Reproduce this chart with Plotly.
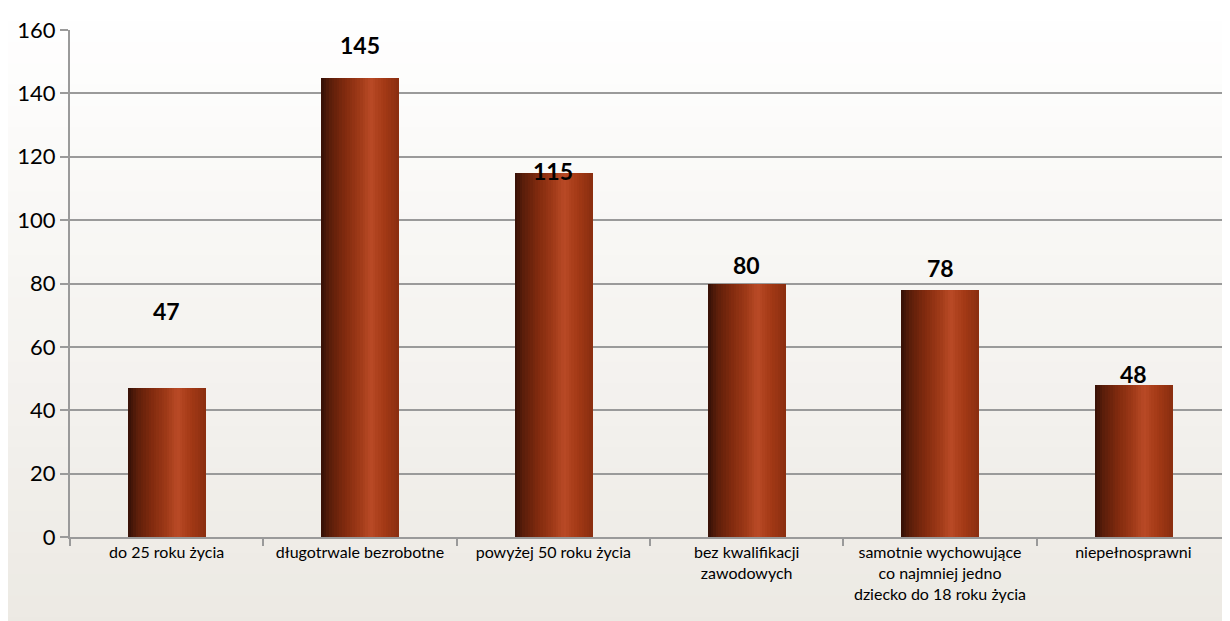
import plotly.graph_objects as go

categories = ["do 25 roku życia", "długotrwale bezrobotne", "powyżej 50 roku życia",
              "bez kwalifikacji<br>zawodowych",
              "samotnie wychowujące<br>co najmniej jedno<br>dziecko do 18 roku życia",
              "niepełnosprawni"]
values = [47, 145, 115, 80, 78, 48]
label_texts = ["47", "145", "115", "80", "78", "48"]
label_shift_px = [77, 33, 2, 19, 22, 11]
y_ticks = [0, 20, 40, 60, 80, 100, 120, 140, 160]

# cylinder shading stops (position across bar, rgb)
stops = [(0.0, (52, 16, 6)), (0.12, (92, 30, 10)), (0.3, (128, 42, 14)),
         (0.5, (160, 58, 24)), (0.64, (185, 74, 38)), (0.8, (165, 58, 22)),
         (1.0, (138, 46, 16))]

def shade(t):
    for (p0, c0), (p1, c1) in zip(stops[:-1], stops[1:]):
        if p0 <= t <= p1:
            f = (t - p0) / (p1 - p0)
            c = [round(a + (b - a) * f) for a, b in zip(c0, c1)]
            return f"rgb({c[0]},{c[1]},{c[2]})"
    return "rgb(138,46,16)"

fig = go.Figure()
bar_w = 0.4
n = 30
step = bar_w / n
for i in range(n):
    t = (i + 0.5) / n
    fig.add_trace(go.Bar(
        x=categories, y=values,
        width=step * 1.2, offset=-bar_w / 2 + i * step,
        marker=dict(color=shade(t), line=dict(width=0)),
        hoverinfo="skip", showlegend=False,
    ))

# background gradient (white top -> warm light grey bottom)
shapes = []
bands = 30
y0, y1 = -0.2, 1.06
for k in range(bands):
    a = y0 + (y1 - y0) * k / bands
    b = y0 + (y1 - y0) * (k + 1) / bands
    t = k / (bands - 1)
    r = round(236 + (255 - 236) * t)
    g = round(233 + (255 - 233) * t)
    bl = round(227 + (255 - 227) * t)
    shapes.append(dict(type="rect", xref="paper", yref="paper", x0=-0.1, x1=1.1,
                       y0=a, y1=b + 0.002, fillcolor=f"rgb({r},{g},{bl})",
                       line=dict(width=0), layer="below"))

annotations = []
for c, v, txt, s in zip(categories, values, label_texts, label_shift_px):
    annotations.append(dict(x=c, y=v, text=txt, showarrow=False, yshift=s,
                            yanchor="middle",
                            font=dict(family="Lato", size=23, color="black", weight="bold")))

fig.update_layout(
    width=1230, height=621,
    margin=dict(l=62, r=8, t=17, b=92),
    paper_bgcolor="white", plot_bgcolor="rgba(0,0,0,0)",
    barmode="overlay", bargap=0,
    shapes=shapes, annotations=annotations,
    font=dict(family="Lato", color="black"),
    xaxis=dict(showline=True, linecolor="#9a9a9a", linewidth=2,
               ticks="outside", tickson="boundaries", ticklen=7, tickcolor="#9a9a9a",
               tickwidth=2, tickfont=dict(size=16), showgrid=False),
    yaxis=dict(range=[0, 160], tickvals=y_ticks, showline=True, linecolor="#9a9a9a",
               linewidth=2, ticks="outside", ticklen=8, tickcolor="#9a9a9a", tickwidth=2,
               gridcolor="#9a9a9a", gridwidth=2, zeroline=False,
               tickfont=dict(size=22)),
)

fig.write_html("out.html")
